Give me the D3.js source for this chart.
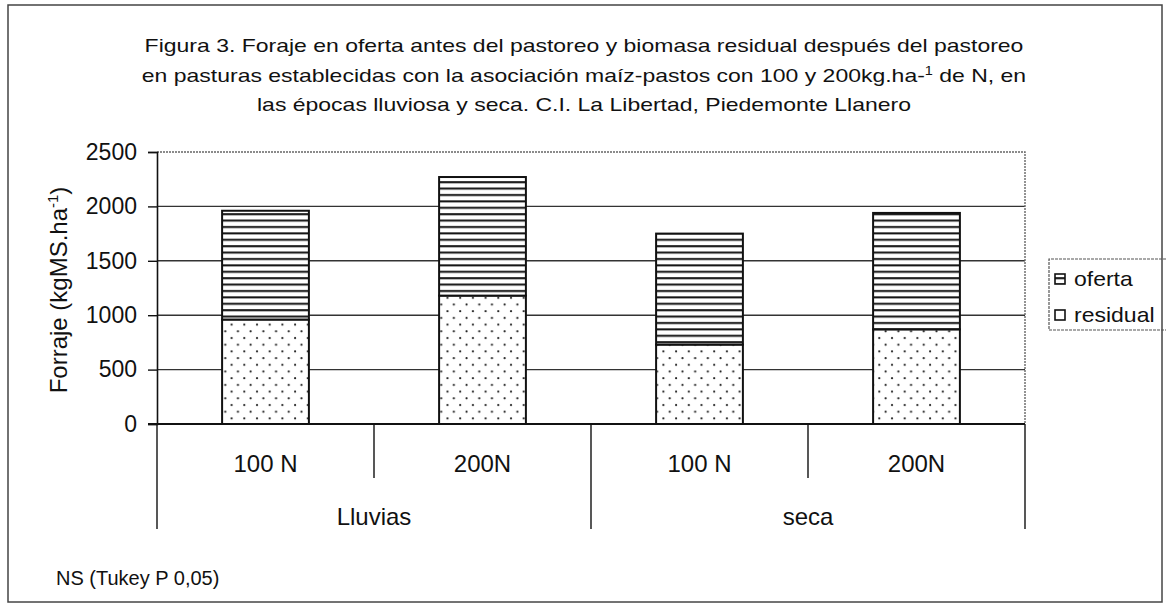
<!DOCTYPE html>
<html>
<head>
<meta charset="utf-8">
<script src="https://cdn.jsdelivr.net/npm/d3@7"></script>
<style>
  body { margin: 0; background: #fff; }
  svg text { font-family: "Liberation Sans", Arial, sans-serif; fill: #111; }
</style>
</head>
<body>
<svg width="1167" height="605"></svg>
<script>
// data
const categories = ["Lluvias|100 N", "Lluvias|200N", "seca|100 N", "seca|200N"];
const doseLabels = ["100 N", "200N", "100 N", "200N"];
const groups = ["Lluvias", "seca"];
const residual = [960, 1180, 730, 870];
const total = [1960, 2270, 1750, 1940];
const oferta = total.map((t, i) => t - residual[i]);
const yTicks = [0, 500, 1000, 1500, 2000, 2500];

const plotLeft = 157, plotRight = 1025, plotTop = 152, plotBottom = 424;

const svg = d3.select("svg");

// patterns
const defs = svg.append("defs");
const hp = defs.append("pattern")
    .attr("id", "hlines")
    .attr("patternUnits", "userSpaceOnUse")
    .attr("width", 10).attr("height", 6.4);
hp.append("rect").attr("width", 10).attr("height", 6.4).attr("fill", "#fff");
hp.append("rect").attr("y", 2).attr("width", 10).attr("height", 2).attr("fill", "#111");

const dp = defs.append("pattern")
    .attr("id", "dots")
    .attr("patternUnits", "userSpaceOnUse")
    .attr("width", 12.7).attr("height", 13.4);
dp.append("rect").attr("width", 12.7).attr("height", 13.4).attr("fill", "#fff");
dp.append("circle").attr("cx", 3).attr("cy", 3).attr("r", 1.1).attr("fill", "#222");
dp.append("circle").attr("cx", 9.35).attr("cy", 9.7).attr("r", 1.1).attr("fill", "#222");

// outer frame
svg.append("rect")
    .attr("x", 8).attr("y", 5)
    .attr("width", 1154).attr("height", 597)
    .attr("fill", "none")
    .attr("stroke", "#444")
    .attr("stroke-width", 1.5);

// title (the scan is stretched sideways, so scale x)
const title = svg.append("text")
    .attr("transform", "translate(584,0) scale(1.21,1)")
    .attr("text-anchor", "middle")
    .style("font-size", "19px");
title.append("tspan").attr("x", 0).attr("y", 52)
    .text("Figura 3. Foraje en oferta antes del pastoreo y biomasa residual después del pastoreo");
const l2 = title.append("tspan").attr("x", 0).attr("y", 82);
l2.append("tspan").text("en pasturas establecidas con la asociación maíz-pastos con 100 y 200kg.ha-");
l2.append("tspan").attr("dy", -7).style("font-size", "12px").text("1");
l2.append("tspan").attr("dy", 7).text(" de N, en");
title.append("tspan").attr("x", 0).attr("y", 111)
    .text("las épocas lluviosa y seca. C.I. La Libertad, Piedemonte Llanero");

// scales
const x = d3.scaleBand()
    .domain(categories)
    .range([plotLeft, plotRight])
    .paddingInner(0.6)
    .paddingOuter(0.3);

const y = d3.scaleLinear()
    .domain([0, 2500])
    .range([plotBottom, plotTop]);

// gridlines
svg.append("g")
    .selectAll("line")
    .data(yTicks.filter(d => d > 0 && d < 2500))
    .join("line")
    .attr("x1", plotLeft).attr("x2", plotRight)
    .attr("y1", d => y(d)).attr("y2", d => y(d))
    .attr("stroke", "#333")
    .attr("stroke-width", 1.4);

// plot frame top and right (dotted, grey)
svg.append("path")
    .attr("d", `M${plotLeft},${y(2500)}H${plotRight}V${y(0)}`)
    .attr("fill", "none")
    .attr("stroke", "#666")
    .attr("stroke-width", 1.4)
    .attr("stroke-dasharray", "2,1");

// y axis
const yAxis = svg.append("g")
    .attr("transform", `translate(${plotLeft},0)`)
    .call(d3.axisLeft(y).tickValues(yTicks).tickFormat(d3.format("d")).tickSize(9).tickPadding(11));
yAxis.select(".domain").attr("stroke", "#111").attr("stroke-width", 1.6);
yAxis.selectAll(".tick line").attr("stroke", "#111").attr("stroke-width", 1.4);
yAxis.selectAll("text")
    .style("font-size", "23px")
    .style("font-family", "'Liberation Sans', Arial, sans-serif")
    .attr("fill", "#111");

// y label
const ylab = svg.append("text")
    .attr("transform", `translate(67,290) rotate(-90)`)
    .attr("text-anchor", "middle")
    .style("font-size", "24px");
ylab.append("tspan").text("Forraje (kgMS.ha");
ylab.append("tspan").attr("dy", -9).style("font-size", "15px").text("-1");
ylab.append("tspan").attr("dy", 9).text(")");

// bars: residual (bottom), oferta (top)
const bars = svg.append("g");
bars.selectAll("rect.res")
    .data(categories)
    .join("rect")
    .attr("class", "res")
    .attr("x", d => x(d))
    .attr("width", x.bandwidth())
    .attr("y", (d, i) => y(residual[i]))
    .attr("height", (d, i) => y(0) - y(residual[i]))
    .attr("fill", "url(#dots)")
    .attr("stroke", "#111")
    .attr("stroke-width", 2);
bars.selectAll("rect.of")
    .data(categories)
    .join("rect")
    .attr("class", "of")
    .attr("x", d => x(d))
    .attr("width", x.bandwidth())
    .attr("y", (d, i) => y(residual[i] + oferta[i]))
    .attr("height", (d, i) => y(residual[i]) - y(residual[i] + oferta[i]))
    .attr("fill", "url(#hlines)")
    .attr("stroke", "#111")
    .attr("stroke-width", 2);

// x axis baseline
svg.append("line")
    .attr("x1", plotLeft - 9).attr("x2", plotRight)
    .attr("y1", y(0)).attr("y2", y(0))
    .attr("stroke", "#111")
    .attr("stroke-width", 2);

// category separators
const step = x.step();
const seps = d3.range(0, categories.length + 1).map(i => plotLeft + i * step);
svg.append("g")
    .selectAll("line")
    .data(seps)
    .join("line")
    .attr("x1", d => d).attr("x2", d => d)
    .attr("y1", y(0))
    .attr("y2", (d, i) => i % 2 === 0 ? 529 : 478)
    .attr("stroke", "#111")
    .attr("stroke-width", 1.4);

// dose labels
svg.append("g")
    .selectAll("text")
    .data(categories)
    .join("text")
    .attr("x", d => x(d) + x.bandwidth() / 2)
    .attr("y", 472)
    .attr("text-anchor", "middle")
    .style("font-size", "24px")
    .text((d, i) => doseLabels[i]);

// group labels
svg.append("g")
    .selectAll("text")
    .data(groups)
    .join("text")
    .attr("x", (d, i) => plotLeft + step * (2 * i + 1))
    .attr("y", 525)
    .attr("text-anchor", "middle")
    .style("font-size", "24px")
    .text(d => d);

// legend
const legend = svg.append("g");
legend.append("path")
    .attr("d", "M1166,259H1049V330H1166")
    .attr("fill", "none")
    .attr("stroke", "#555")
    .attr("stroke-width", 1.2)
    .attr("stroke-dasharray", "3,1");
const legItems = [
  {name: "oferta", fill: "url(#hlines)", y: 286},
  {name: "residual", fill: "#fff", y: 322}
];
legItems.forEach(d => {
  legend.append("rect")
    .attr("x", 1055).attr("y", d.y - 12)
    .attr("width", 10).attr("height", 10)
    .attr("fill", d.fill)
    .attr("stroke", "#111")
    .attr("stroke-width", 1.6);
  legend.append("text")
    .attr("transform", `translate(1074,${d.y}) scale(1.15,1)`)
    .style("font-size", "20px")
    .text(d.name);
});

// footnote
svg.append("text")
    .attr("x", 56).attr("y", 585)
    .style("font-size", "20px")
    .text("NS (Tukey P 0,05)");
</script>
</body>
</html>
